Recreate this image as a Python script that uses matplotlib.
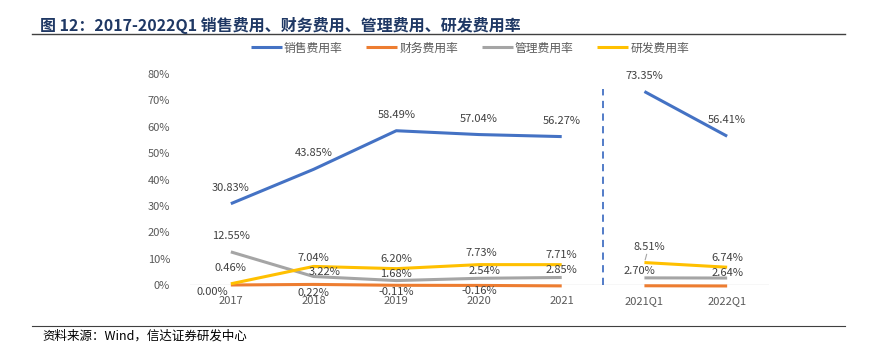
import numpy as np
import matplotlib
matplotlib.use('Agg')
import matplotlib.pyplot as plt

plt.rcParams['font.family'] = ['Noto Sans CJK SC', 'DejaVu Sans']

categories = ['2017', '2018', '2019', '2020', '2021', '2021Q1', '2022Q1']
sales = [30.83, 43.85, 58.49, 57.04, 56.27, 73.35, 56.41]
finance = [0.00, 0.22, -0.11, -0.16, -0.34, -0.29, -0.37]
admin = [12.55, 3.22, 1.68, 2.54, 2.85, 2.70, 2.64]
rnd = [0.46, 7.04, 6.20, 7.73, 7.71, 8.51, 6.74]
names = ['销售费用率', '财务费用率', '管理费用率', '研发费用率']
colors = ['#4472C4', '#ED7D31', '#A5A5A5', '#FFC000']

# label offsets in pixels (dx, dy), dy positive = up
offsets = {
    0: [(0, 16)] * 7,
    1: [(-19, -7), (0, -9), (0, -7), (0, -6), (0, -6), (-14, -6), (0, -7)],
    2: [(0, 16), (11, 5), (0, 7), (5, 7), (0, 7), (-5, 7), (0, 5)],
    3: [(0, 16), (0, 8), (0, 10), (2, 12), (0, 10), (5, 16), (0, 9)],
}

fig = plt.figure(figsize=(8.77, 3.52), dpi=100)
ax = fig.add_axes([189.5 / 877, (352 - 285) / 352, 579 / 877, 211 / 352])

x = np.arange(len(categories))
series = [sales, finance, admin, rnd]
px = 0.72  # points per pixel
for i, (vals, c) in enumerate(zip(series, colors)):
    v = np.array(vals)
    ax.plot(x[:5], v[:5], color=c, lw=2.2, solid_capstyle='butt', clip_on=False, label=names[i])
    ax.plot(x[5:], v[5:], color=c, lw=2.2, solid_capstyle='butt', clip_on=False)
    for j, val in enumerate(vals):
        dx, dy = offsets[i][j]
        ax.annotate(f'{val:.2f}%', (x[j], val), xytext=(dx * px, dy * px),
                    textcoords='offset points', ha='center', va='center',
                    fontsize=8, color='#404040')

# leader line for 8.51%
ax.annotate('', (x[5], rnd[5]), xytext=(3 * px, 11 * px), textcoords='offset points',
            arrowprops=dict(arrowstyle='-', color='#A5A5A5', lw=0.8))

ax.axvline(4.5, ymin=0, ymax=0.93, color='#4472C4', lw=1.3, ls=(0, (4, 3)))
ax.axhline(0, color='#D9D9D9', lw=1, zorder=0)

ax.set_xlim(-0.5, 6.5)
ax.set_ylim(0, 80)
ax.set_xticks(x)
ax.set_xticklabels(categories)
ax.set_yticks(np.arange(0, 81, 10))
ax.set_yticklabels([f'{t}%' for t in range(0, 81, 10)])
ax.tick_params(axis='both', length=0, labelsize=8, colors='#595959')
ax.tick_params(axis='x', pad=8)
ax.tick_params(axis='y', pad=14)
for s in ax.spines.values():
    s.set_visible(False)

handles, labels = ax.get_legend_handles_labels()
fig.legend(handles, labels, loc='center', bbox_to_anchor=(470 / 877, 1 - 48 / 352),
           ncol=4, frameon=False, fontsize=8.5, handlelength=2.6, columnspacing=2.0,
           handletextpad=0.2, labelcolor='#595959')

fig.text(40 / 877, 1 - 25 / 352, '图 12：2017-2022Q1 销售费用、财务费用、管理费用、研发费用率',
         fontsize=11.5, fontweight='bold', color='#1F3864', va='center', ha='left')
fig.add_artist(plt.Line2D([32 / 877, 845 / 877], [1 - 34 / 352] * 2, color='#404040', lw=1))
fig.add_artist(plt.Line2D([32 / 877, 845 / 877], [1 - 326 / 352] * 2, color='#404040', lw=0.8))
fig.text(42 / 877, 1 - 336 / 352, '资料来源：Wind，信达证券研发中心', fontsize=9,
         style='italic', color='#000000', va='center', ha='left')

fig.savefig('out.png', dpi=100)
